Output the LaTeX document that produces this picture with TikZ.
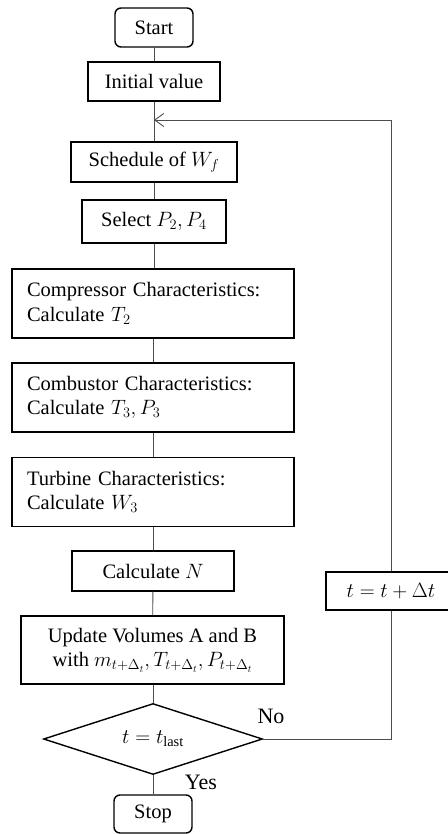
\documentclass[tikz,border=0pt]{standalone}
\usepackage{fontspec}
\setmainfont{Liberation Serif}
\usetikzlibrary{shapes.geometric,arrows.meta}
\begin{document}
\begin{tikzpicture}[x=1pt,y=-1pt,
  box/.style={draw=black, line width=1.4pt, inner sep=0pt, font=\fontsize{20.5}{24.5}\selectfont},
  rbox/.style={box, rounded corners=6pt},
  wide/.style={box, minimum width=282pt, minimum height=69pt, text width=252pt, align=left},
  link/.style={draw=black!70, line width=0.9pt},
  lbl/.style={font=\fontsize{22}{24}\selectfont, inner sep=0pt}
]
\useasboundingbox (0,0) rectangle (447,834);
\node[rbox, minimum width=78pt, minimum height=39pt] (start) at (154,27.5) {Start};
\node[box, minimum width=132pt, minimum height=39pt] (init) at (154,81.5) {Initial value};
\node[box, minimum width=166pt, minimum height=40pt] (sched) at (154,162) {Schedule of $W_f$};
\node[box, minimum width=144pt, minimum height=43pt] (sel) at (154,221.5) {Select $P_2, P_4$};
\node[wide] (comp) at (153,303.5) {Compressor Characteristics:\\Calculate $T_2$};
\node[wide] (comb) at (153,397.5) {Combustor Characteristics:\\Calculate $T_3, P_3$};
\node[wide] (turb) at (153,492) {Turbine Characteristics:\\Calculate $W_3$};
\node[box, minimum width=162pt, minimum height=40pt] (calc) at (153,571) {Calculate $N$};
\node[box, minimum width=263pt, minimum height=68pt, align=center] (upd) at (152.5,650) {Update Volumes A and B\\with $m_{t+\Delta_t}, T_{t+\Delta_t}, P_{t+\Delta_t}$};
\node[box, shape=diamond, aspect=3.08, minimum width=219pt, minimum height=71pt] (dia) at (153,739) {$t = t_{\mathrm{last}}$};
\node[rbox, minimum width=78pt, minimum height=38pt] (stop) at (153,814) {Stop};
\node[box, minimum width=130pt, minimum height=38pt] (dt) at (391,591) {$t = t + \Delta t$};
\node[lbl] (no) at (271,716) {No};
\node[lbl] (yes) at (201,782) {Yes};
\coordinate (join) at (154,120);

\draw[link] (start) -- (init);
\draw[link] (init) -- (sched);
\draw[link] (sched) -- (sel);
\draw[link] (sel.south) -- (sel.south |- comp.north);
\draw[link] (comp) -- (comb);
\draw[link] (comb) -- (turb);
\draw[link] (turb.south -| calc.north) -- (calc.north);
\draw[link] (calc) -- (upd);
\draw[link] (upd.south -| dia.north) -- (dia.north);
\draw[link] (dia) -- (stop);
\draw[link] (dia.east) -| (dt.south);
\draw[link, -{Straight Barb[length=9pt,width=13pt,line width=0.9pt]}] (dt.north) |- (join);
\end{tikzpicture}
\end{document}
